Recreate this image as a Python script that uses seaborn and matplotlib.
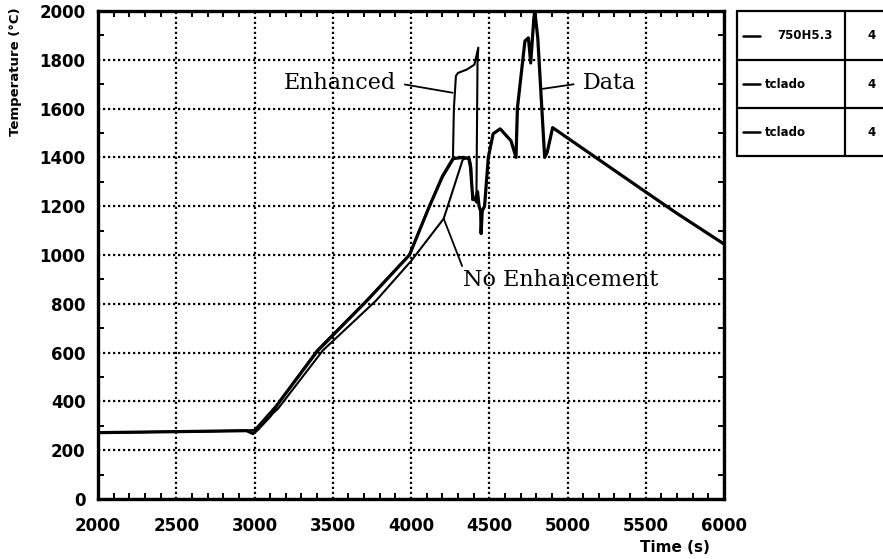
import matplotlib
matplotlib.use("Agg")
import matplotlib.pyplot as plt
from matplotlib.lines import Line2D
from matplotlib.ticker import MultipleLocator
import seaborn as sns

# Measured cladding thermocouple (750H5.3)
data_t = [2000, 2500, 2950, 2990, 3020, 3100, 3150, 3400, 3720, 3990, 4114, 4200,
          4270, 4330, 4370, 4380, 4395, 4410, 4425, 4435, 4445, 4448, 4455, 4470,
          4494, 4525, 4570, 4639, 4671, 4680, 4728, 4750, 4765, 4785, 4791, 4810,
          4854, 4870, 4905, 5146, 5487, 5696, 6000]
data_T = [272, 276, 280, 268, 285, 340, 390, 605, 814, 1000, 1194, 1320,
          1395, 1400, 1395, 1360, 1230, 1225, 1260, 1200, 1180, 1088, 1180, 1200,
          1400, 1497, 1517, 1468, 1400, 1603, 1877, 1890, 1787, 1971, 2000, 1890,
          1400, 1420, 1522, 1415, 1264, 1172, 1045]

# Calculated cladding temperature, enhanced oxidation model (tclado)
enh_t = [2000, 2500, 2950, 3000, 3150, 3400, 3720, 3990, 4114, 4200, 4268,
         4274, 4287, 4300, 4356, 4405, 4430, 4425, 4420, 4418]
enh_T = [272, 276, 280, 283, 392, 610, 816, 1002, 1196, 1325, 1398,
         1600, 1734, 1746, 1760, 1780, 1850, 1790, 1400, 1215]

# Calculated cladding temperature, no enhancement (tclado)
noenh_t = [2000, 2500, 2950, 3000, 3150, 3437, 3778, 4000, 4209, 4300, 4330,
           4360, 4375, 4385, 4392, 4405, 4420]
noenh_T = [272, 276, 280, 282, 370, 609, 814, 975, 1149, 1330, 1390,
           1400, 1395, 1360, 1225, 1230, 1215]

x_ticks = [2000, 2500, 3000, 3500, 4000, 4500, 5000, 5500, 6000]
y_ticks = [0, 200, 400, 600, 800, 1000, 1200, 1400, 1600, 1800, 2000]

legend_names = ["750H5.3", "tclado", "tclado"]
legend_codes = ["4", "4", "4"]

sns.set_style("ticks")
plt.rcParams["font.family"] = ["DejaVu Sans"]
plt.rcParams["text.color"] = "black"
plt.rcParams["xtick.color"] = "black"
plt.rcParams["ytick.color"] = "black"
plt.rcParams["xtick.labelcolor"] = "black"
plt.rcParams["ytick.labelcolor"] = "black"

W, H = 883, 559
fig = plt.figure(figsize=(W / 100, H / 100), dpi=100)
L, R, T, B = 98, 724, 11, 499
ax = fig.add_axes([L / W, 1 - B / H, (R - L) / W, (B - T) / H])

sns.lineplot(x=noenh_t, y=noenh_T, ax=ax, sort=False, estimator=None,
             color="black", lw=1.5)
sns.lineplot(x=enh_t, y=enh_T, ax=ax, sort=False, estimator=None,
             color="black", lw=1.5)
sns.lineplot(x=data_t, y=data_T, ax=ax, sort=False, estimator=None,
             color="black", lw=2.3)

ax.set_xlim(2000, 6000)
ax.set_ylim(0, 2000)
ax.set_xticks(x_ticks)
ax.set_yticks(y_ticks)
ax.set_xticklabels([str(v) for v in x_ticks])
ax.set_yticklabels([str(v) for v in y_ticks])
ax.xaxis.set_minor_locator(MultipleLocator(100))
ax.yaxis.set_minor_locator(MultipleLocator(100))
ax.tick_params(which="both", direction="in", top=True, right=True,
               color="black", width=1.4)
ax.tick_params(which="major", length=0)
ax.tick_params(which="minor", length=4)
ax.tick_params(axis="x", which="major", pad=13, labelsize=12, labelcolor="black")
ax.tick_params(axis="y", which="major", pad=9, labelsize=12, labelcolor="black")
for lab in ax.get_xticklabels() + ax.get_yticklabels():
    lab.set_fontweight("bold")

ax.grid(True, which="major", color="black", lw=1.6, linestyle=(0, (1, 1.25)))
for sp in ax.spines.values():
    sp.set_visible(True)
    sp.set_color("black")
    sp.set_linewidth(2.4)
ax.set_xlabel("")
ax.set_ylabel("")

fig.text(16 / W, 1 - 72 / H, "Temperature (°C)", rotation=90, ha="center",
         va="center", fontsize=9.5, fontweight="bold", color="black")
fig.text(675 / W, 1 - 547 / H, "Time (s)", ha="center", va="center",
         fontsize=11, fontweight="bold", color="black")

serif = dict(family="DejaVu Serif", fontsize=16, color="black")
ax.annotate("Enhanced", xy=(4266, 1665), xytext=(3905, 1705), ha="right",
            va="center", arrowprops=dict(arrowstyle="-", color="black", lw=1.3,
                                         shrinkA=4, shrinkB=0, relpos=(1, 0.5)),
            **serif)
ax.annotate("Data", xy=(4842, 1681), xytext=(5095, 1705), ha="left",
            va="center", arrowprops=dict(arrowstyle="-", color="black", lw=1.3,
                                         shrinkA=4, shrinkB=0, relpos=(0, 0.5)),
            **serif)
ax.annotate("No Enhancement", xy=(4209, 1149), xytext=(4335, 896), ha="left",
            va="center", arrowprops=dict(arrowstyle="-", color="black", lw=1.3,
                                         shrinkA=0, shrinkB=0, relpos=(0, 1)),
            **serif)

# Legend table at the upper right
def fx(px):
    return px / W

def fy(py):
    return 1 - py / H

box_l, box_r, col_x = 737, 890, 845
rows = [11, 60, 108, 156]
for y in rows:
    fig.add_artist(Line2D([fx(box_l), fx(box_r)], [fy(y), fy(y)],
                          color="black", lw=1.6))
fig.add_artist(Line2D([fx(box_l), fx(box_l)], [fy(rows[0]), fy(rows[-1])],
                      color="black", lw=1.6))
fig.add_artist(Line2D([fx(col_x), fx(col_x)], [fy(rows[0]), fy(rows[-1])],
                      color="black", lw=1.6))
for i, (name, code) in enumerate(zip(legend_names, legend_codes)):
    yc = (rows[i] + rows[i + 1]) / 2
    fig.add_artist(Line2D([fx(743), fx(760)], [fy(yc), fy(yc)],
                          color="black", lw=1.8))
    tx = 777 if i == 0 else 765
    fig.text(fx(tx), fy(yc), name, ha="left", va="center", fontsize=8.5,
             fontweight="bold", color="black")
    fig.text(fx(872), fy(yc), code, ha="center", va="center", fontsize=8.5,
             fontweight="bold", color="black")

fig.savefig("out.png", dpi=100, facecolor="white")
